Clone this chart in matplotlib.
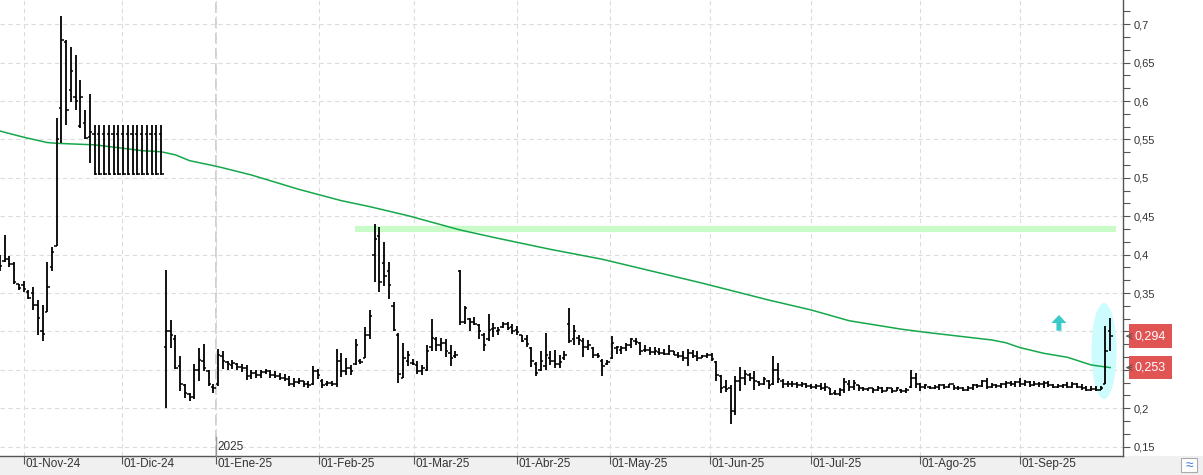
import numpy as np
import pandas as pd
import matplotlib
matplotlib.use('Agg')
import matplotlib.pyplot as plt
import matplotlib.transforms as mtransforms
from matplotlib.patches import Ellipse, Rectangle
from matplotlib.ticker import MultipleLocator

plt.rcParams['font.family'] = ['Liberation Sans', 'DejaVu Sans']

# trading sessions (BME calendar)
start_day = '2024-10-25'
end_day = '2025-09-26'
holidays = ['2024-12-25', '2024-12-26', '2025-01-01', '2025-04-18', '2025-04-21', '2025-05-01']

# daily OHLC
opens = [.398, .392, .395, .388, .362, .360, .352, .350, .335, .300,
         .326, .384, .411, .591, .677, .614, .605, .568, .572, .553,
         .557, .557, .557, .557, .557, .557, .557, .557, .557, .557,
         .557, .557, .557, .557, .557,
         .280, .300, .290, .255, .230, .218, .215, .250, .262, .248,
         .228, .232, .268, .260, .256, .258, .254, .252, .242, .246,
         .244, .247, .248, .244, .242, .240, .238, .232, .234, .236,
         .232, .232, .248, .236, .231, .233, .232, .262, .248, .252,
         .258, .262, .266, .295, .400, .424, .389, .379, .333, .295,
         .240, .262, .259, .256, .248, .250, .280, .290, .282, .285,
         .272, .268, .379, .313, .316, .312, .308, .295, .290, .303,
         .300, .306, .310, .306, .302, .296, .290, .278, .258, .250,
         .255, .266, .262, .258, .265, .310, .290, .292, .288, .280,
         .278, .270, .262, .258, .265, .278, .276, .279, .282, .288,
         .285, .276, .276, .273, .273, .272, .271, .274, .270, .268,
         .266, .272, .268, .266, .268, .270, .260, .242, .228, .226,
         .196, .235, .240, .244, .240, .234, .232, .236, .231, .250,
         .236, .232, .231, .232, .230, .231, .229, .228, .229, .226,
         .226, .220, .219, .224, .232, .228, .230, .226, .225, .226,
         .224, .227, .223, .226, .222, .224, .222, .228, .240, .232,
         .228, .228, .227, .228, .230, .228, .231, .226, .227, .224,
         .227, .230, .229, .235, .228, .230, .229, .231, .233, .232,
         .234, .231, .234, .230, .232, .231, .233, .230, .228, .229,
         .230, .228, .231, .228, .226, .224, .225, .224, .232, .300]
highs = [.400, .425, .398, .391, .362, .366, .354, .358, .341, .335,
         .390, .410, .578, .711, .679, .671, .660, .627, .588, .609,
         .569, .569, .569, .569, .569, .569, .569, .569, .569, .569,
         .569, .569, .569, .569, .569,
         .380, .315, .295, .268, .232, .220, .258, .278, .284, .250,
         .232, .277, .274, .262, .263, .259, .258, .256, .250, .250,
         .250, .251, .250, .249, .246, .245, .242, .240, .240, .236,
         .236, .255, .251, .238, .236, .236, .277, .272, .266, .256,
         .290, .264, .306, .328, .440, .436, .416, .391, .339, .298,
         .285, .274, .264, .261, .256, .282, .316, .293, .292, .290,
         .282, .274, .380, .333, .318, .319, .310, .298, .323, .311,
         .306, .313, .312, .310, .307, .296, .295, .280, .260, .274,
         .298, .275, .276, .269, .274, .331, .308, .296, .291, .289,
         .280, .272, .264, .263, .294, .281, .281, .285, .292, .292,
         .286, .282, .280, .280, .279, .277, .282, .275, .273, .274,
         .277, .276, .275, .270, .272, .272, .261, .243, .237, .230,
         .242, .254, .250, .246, .249, .236, .241, .237, .268, .259,
         .238, .235, .235, .234, .234, .233, .232, .231, .233, .233,
         .227, .224, .226, .239, .237, .237, .230, .228, .227, .227,
         .229, .228, .228, .227, .228, .225, .226, .250, .246, .233,
         .232, .229, .230, .232, .232, .232, .230, .229, .228, .229,
         .232, .232, .237, .239, .233, .232, .233, .235, .236, .236,
         .239, .237, .235, .235, .234, .235, .235, .232, .232, .232,
         .234, .234, .233, .232, .229, .229, .229, .229, .307, .317]
lows = [.379, .391, .384, .362, .354, .352, .342, .328, .296, .287,
        .326, .379, .411, .545, .569, .599, .588, .565, .550, .520,
        .504, .504, .504, .504, .504, .504, .504, .504, .504, .504,
        .504, .504, .504, .504, .504,
        .200, .278, .251, .222, .213, .209, .212, .236, .248, .229,
        .220, .229, .251, .250, .251, .250, .247, .237, .238, .240,
        .240, .245, .240, .240, .237, .236, .229, .228, .231, .228,
        .227, .230, .238, .227, .229, .229, .228, .241, .243, .244,
        .256, .258, .265, .290, .365, .352, .359, .342, .301, .233,
        .239, .255, .256, .245, .244, .248, .274, .275, .275, .267,
        .255, .266, .308, .310, .301, .308, .290, .274, .288, .293,
        .296, .305, .302, .297, .296, .286, .280, .254, .242, .249,
        .250, .256, .252, .252, .263, .285, .282, .282, .267, .276,
        .266, .266, .242, .256, .264, .271, .271, .275, .278, .283,
        .270, .273, .269, .269, .269, .269, .269, .269, .265, .262,
        .255, .265, .261, .265, .266, .262, .235, .220, .221, .180,
        .191, .223, .230, .235, .224, .229, .230, .225, .230, .233,
        .227, .228, .228, .227, .228, .226, .225, .225, .224, .223,
        .217, .217, .216, .220, .222, .224, .223, .223, .222, .220,
        .223, .220, .222, .220, .222, .220, .220, .227, .226, .223,
        .225, .225, .225, .224, .225, .226, .224, .224, .222, .223,
        .224, .226, .228, .225, .226, .227, .226, .227, .229, .228,
        .228, .229, .228, .229, .228, .227, .228, .226, .226, .227,
        .226, .227, .226, .224, .222, .223, .223, .224, .232, .275]
closes = [.385, .395, .388, .365, .356, .355, .344, .335, .318, .297,
          .358, .404, .550, .680, .588, .639, .600, .605, .552, .560,
          .505, .505, .505, .505, .505, .505, .505, .505, .505, .505,
          .505, .505, .505, .505, .505,
          .300, .295, .253, .231, .220, .215, .250, .263, .252, .232,
          .226, .270, .262, .258, .259, .254, .252, .242, .246, .244,
          .247, .248, .244, .242, .240, .238, .232, .234, .236, .232,
          .230, .248, .244, .230, .233, .232, .262, .248, .252, .248,
          .282, .260, .295, .320, .420, .364, .372, .361, .302, .245,
          .265, .270, .258, .248, .252, .275, .292, .282, .285, .275,
          .265, .270, .313, .330, .312, .310, .300, .283, .302, .305,
          .302, .310, .305, .300, .299, .288, .284, .262, .246, .262,
          .270, .262, .258, .260, .270, .288, .300, .289, .280, .282,
          .270, .268, .255, .260, .285, .280, .279, .283, .290, .286,
          .274, .276, .273, .274, .272, .271, .275, .270, .268, .266,
          .272, .268, .265, .268, .269, .264, .244, .226, .225, .196,
          .235, .240, .245, .240, .236, .232, .238, .230, .250, .238,
          .232, .231, .232, .230, .231, .229, .228, .229, .226, .228,
          .219, .219, .224, .234, .228, .233, .226, .225, .226, .224,
          .227, .223, .226, .222, .226, .222, .224, .240, .232, .228,
          .230, .227, .228, .230, .228, .231, .226, .227, .224, .227,
          .230, .229, .235, .228, .230, .229, .231, .233, .232, .234,
          .231, .234, .230, .232, .231, .233, .230, .228, .229, .230,
          .228, .231, .228, .226, .224, .225, .224, .226, .274, .294]

# moving average (green line), sampled at session numbers
ma_idx = [0, 5, 10, 12, 16, 20, 26, 30, 34, 37, 40, 46, 53, 63, 72, 78, 86, 97, 105,
          116, 127, 148, 162, 171, 179, 190, 195, 202, 209, 212, 215, 220, 225, 230, 234]
ma_vals = [.561, .553, .546, .545, .544, .543, .5385, .5354, .534, .530, .5224, .5146,
           .5038, .4851, .4703, .4625, .4508, .4322, .4213, .407, .394, .363, .341, .328,
           .314, .303, .299, .294, .289, .2854, .279, .2716, .2664, .2564, .253]

resistance = 0.434
last_price = 0.294
ma_last = 0.253

month_starts = ['2024-11-01', '2024-12-01', '2025-01-01', '2025-02-01', '2025-03-01',
                '2025-04-01', '2025-05-01', '2025-06-01', '2025-07-01', '2025-08-01',
                '2025-09-01']
month_labels = ['01-Nov-24', '01-Dic-24', '01-Ene-25', '01-Feb-25', '01-Mar-25',
                '01-Abr-25', '01-May-25', '01-Jun-25', '01-Jul-25', '01-Ago-25',
                '01-Sep-25']
y_major = [0.15, 0.2, 0.25, 0.3, 0.35, 0.4, 0.45, 0.5, 0.55, 0.6, 0.65, 0.7]
# these two are covered by the red price boxes in the original
y_hidden = [0.25, 0.3]

days = pd.bdate_range(start_day, end_day)
days = days[~days.isin(pd.to_datetime(holidays))]
x = np.arange(len(days))
day_num = days.values.astype('datetime64[D]').astype(np.int64)
month_num = pd.to_datetime(month_starts).values.astype('datetime64[D]').astype(np.int64)
month_pos = np.interp(month_num, day_num, x)

fig = plt.figure(figsize=(12.03, 4.75), dpi=100)
fig.patches.append(Rectangle((0, 0), 1, 0.0392, transform=fig.transFigure,
                             fc='#f0f0f0', ec='none', zorder=-5))
ax = fig.add_axes([0, 0.0392, 0.9333, 0.9608])
ax.set_xlim(0.04, 236.65)
ax.set_ylim(0.1374, 0.7316)

# grid
ax.set_yticks(y_major)
ax.set_xticks(month_pos)
ax.grid(True, which='major', color='#dcdcdc', ls=(0, (4, 3)), lw=0.8, zorder=0)
ax.set_axisbelow(True)
jan = month_pos[2]
ax.axvline(jan, color='#c4c4c4', ls=(0, (7, 3)), lw=1.1, zorder=0)

# annotations behind the bars
ax.add_patch(Ellipse((232.7, 0.2746), width=5.3, height=0.125, fc='#ccfcfe', ec='none', zorder=1))
ax.plot([74.85, 235.3], [resistance, resistance], color='#c9fbc9', lw=4.4,
        solid_capstyle='butt', zorder=1)
ax.arrow(223.2, 0.301, 0, 0.0205, width=1.05, head_width=3.2, head_length=0.0105,
         length_includes_head=True, color='#3cc9c9', lw=0, zorder=2)

ax.plot(ma_idx, ma_vals, color='#14a84a', lw=1.1, zorder=3)

# OHLC bars
ax.vlines(x, lows, highs, color='black', lw=1.3, zorder=4)
ax.hlines(opens, x - 0.5, x, color='black', lw=1.1, zorder=4)
ax.hlines(closes, x, x + 0.5, color='black', lw=1.1, zorder=4)

# axes styling
for s in ['top', 'left']:
    ax.spines[s].set_visible(False)
for s in ['right', 'bottom']:
    ax.spines[s].set_color('#555555')
    ax.spines[s].set_linewidth(1.0)
ax.yaxis.tick_right()
ax.yaxis.set_minor_locator(MultipleLocator(0.05 / 3))
ax.set_yticklabels(['' if v in y_hidden else ('%g' % v).replace('.', ',') for v in y_major])
ax.set_xticklabels(month_labels, ha='left', va='top')
ax.tick_params(axis='y', which='both', direction='out', length=5, width=0.8,
               color='#555555', labelsize=8, labelcolor='#333333', pad=3)
ax.tick_params(axis='x', direction='out', length=6, width=0.8, color='#555555',
               labelsize=8.5, labelcolor='#333333', pad=-5)
for lab in ax.get_xticklabels():
    lab.set_transform(lab.get_transform() + mtransforms.ScaledTranslation(1.5 / 100, 0, fig.dpi_scale_trans))

# year marker
tr = mtransforms.blended_transform_factory(ax.transData, ax.transAxes)
ax.plot([jan, jan], [0, 0.043], transform=tr, color='#999999', lw=1.0, clip_on=False, zorder=5)
ax.text(jan + 0.4, 0.008, '2025', transform=tr, fontsize=8.5, color='#333333',
        ha='left', va='bottom')

# price labels on the right axis
for val in [last_price, ma_last]:
    ax.annotate(('%.3f' % val).replace('.', ','), xy=(1, val), xycoords=('axes fraction', 'data'),
                xytext=(12, 0), textcoords='offset pixels', ha='left', va='center',
                color='white', fontsize=9, annotation_clip=False,
                bbox=dict(boxstyle='square,pad=0.45', fc='#e05454', ec='none'))
    ax.annotate('', xy=(1, val), xycoords=('axes fraction', 'data'),
                xytext=(9, 0), textcoords='offset pixels', annotation_clip=False,
                arrowprops=dict(arrowstyle='->', color='#555555', lw=0.7, shrinkA=0, shrinkB=2))

# small toolbar icon bottom right
fig.patches.append(Rectangle((1181 / 1203, 3 / 475), 16 / 1203, 14 / 475, transform=fig.transFigure,
                             fc='white', ec='#aaaaaa', lw=0.8, zorder=2))
fig.text(1189 / 1203, 10 / 475, '≈', ha='center', va='center', fontsize=10, color='#3a7bd5')

fig.savefig('out.png', dpi=100, facecolor='white')
